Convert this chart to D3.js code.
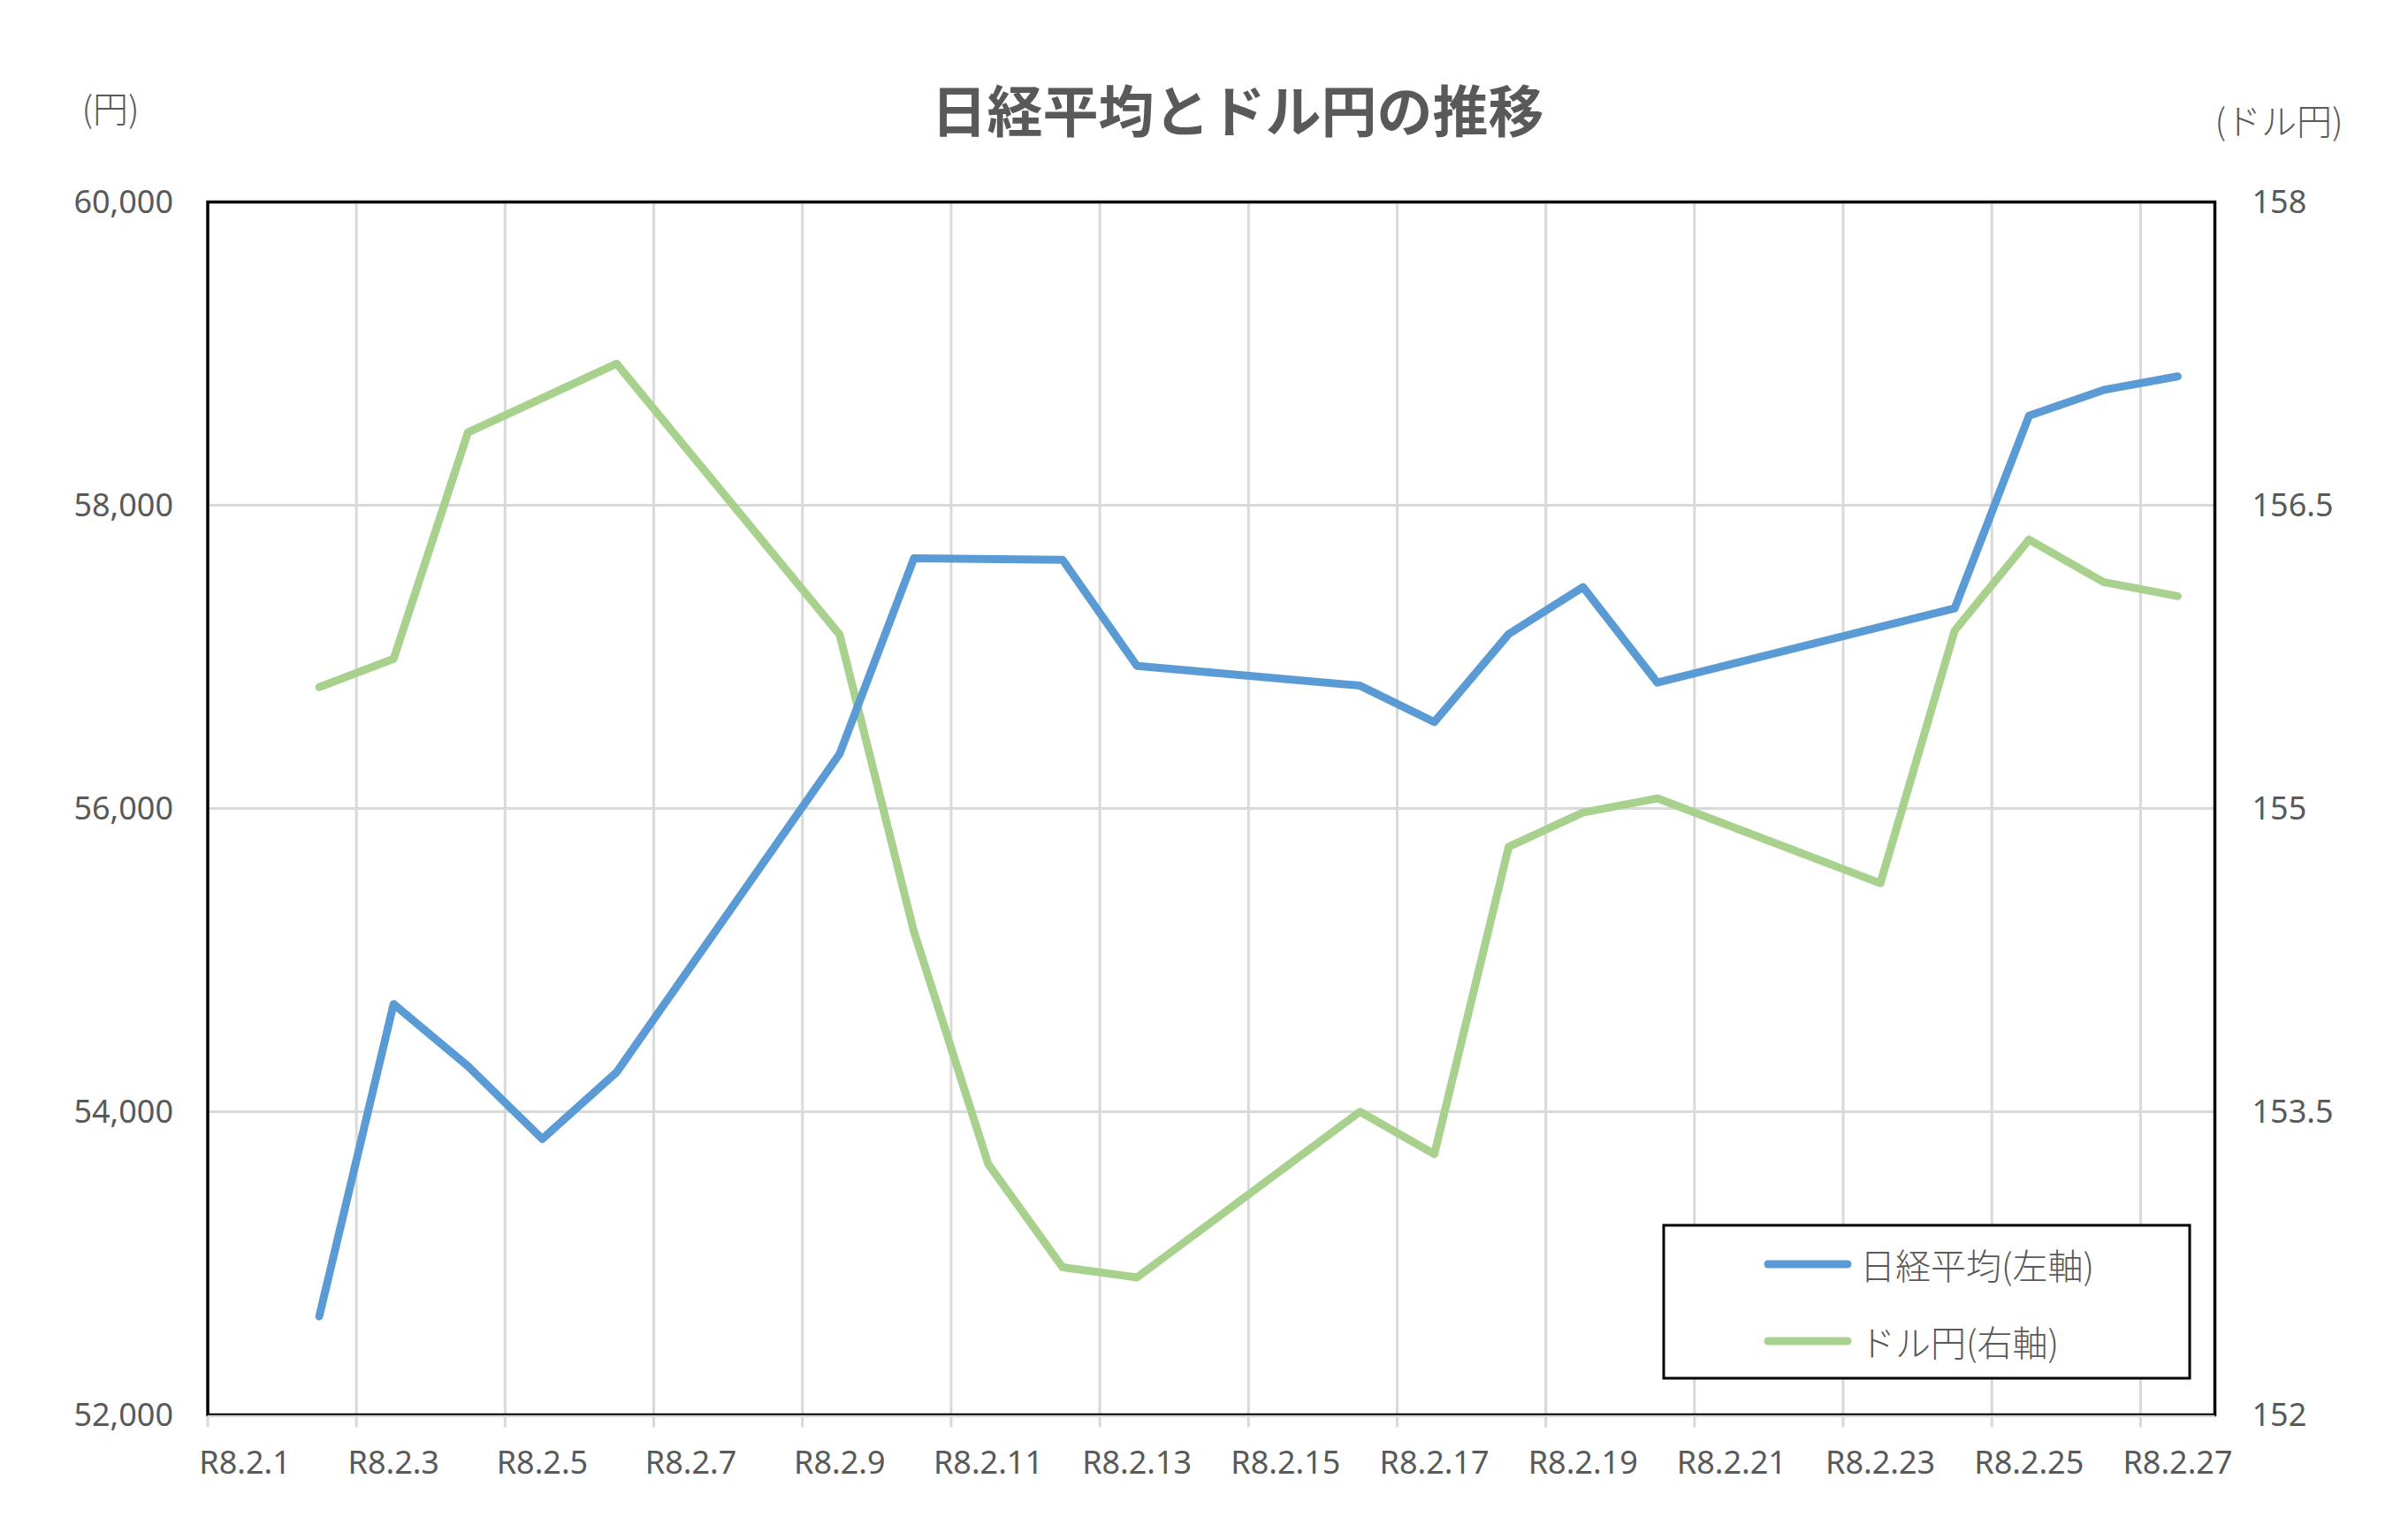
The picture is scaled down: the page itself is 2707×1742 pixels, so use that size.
<!DOCTYPE html>
<html lang="ja">
<head>
<meta charset="utf-8">
<title>日経平均とドル円の推移</title>
<script src="https://cdn.jsdelivr.net/npm/d3@7"></script>
<style>
  body { margin: 0; background: #fff; }
  text { font-family: "Noto Sans", "Noto Sans CJK JP", sans-serif; fill: #595959; }
  .jp { font-family: "Noto Sans CJK JP", sans-serif; font-weight: 300; }
</style>
</head>
<body>
<div id="container"></div>
<script>
// Chart data
const days = d3.range(1, 28);                       // 令和8年2月1日〜27日
const dayLabels = days.map(d => "R8.2." + d);
const tickLabelDays = days.filter(d => d % 2 === 1);

const nikkeiDays = [2, 3, 4, 5, 6, 9, 10, 12, 13, 16, 17, 18, 19, 20, 24, 25, 26, 27];
const nikkeiValues = [52650, 54710, 54300, 53820, 54260, 56360, 57650, 57640, 56940,
                      56810, 56570, 57150, 57460, 56830, 57320, 58590, 58760, 58850];

const usdDays = [2, 3, 4, 5, 6, 9, 10, 11, 12, 13, 16, 17, 18, 19, 20, 23, 24, 25, 26, 27];
const usdValues = [155.60, 155.74, 156.86, 157.03, 157.20, 155.86, 154.39, 153.24, 152.73, 152.68,
                   153.50, 153.29, 154.81, 154.98, 155.05, 154.63, 155.88, 156.33, 156.12, 156.05];

const leftTicks = [52000, 54000, 56000, 58000, 60000];
const rightTicks = [152, 153.5, 155, 156.5, 158];

const seriesNames = ["日経平均(左軸)", "ドル円(右軸)"];
const seriesColors = ["#5B9BD5", "#A9D18E"];

// Dimensions
const width = 2707;
const height = 1742;
const plot = { left: 235, right: 2505.5, top: 228.5, bottom: 1600.5 };

const svg = d3.select("#container")
  .append("svg")
  .attr("width", width)
  .attr("height", height);

svg.append("rect").attr("width", width).attr("height", height).attr("fill", "#fff");

// Scales
const xScale = d3.scaleBand()
  .domain(days)
  .range([plot.left, plot.right])
  .padding(0);
const xMid = d => xScale(d) + xScale.bandwidth() / 2;

const yLeft = d3.scaleLinear().domain([52000, 60000]).range([plot.bottom, plot.top]);
const yRight = d3.scaleLinear().domain([152, 158]).range([plot.bottom, plot.top]);

// Gridlines (horizontal)
svg.append("g")
  .selectAll("line")
  .data(leftTicks.slice(1, -1))
  .enter()
  .append("line")
  .attr("x1", plot.left).attr("x2", plot.right)
  .attr("y1", d => yLeft(d)).attr("y2", d => yLeft(d))
  .attr("stroke", "#D9D9D9").attr("stroke-width", 3);

// Gridlines (vertical, every second day)
svg.append("g")
  .selectAll("line")
  .data(tickLabelDays.slice(1))
  .enter()
  .append("line")
  .attr("x1", d => xScale(d)).attr("x2", d => xScale(d))
  .attr("y1", plot.top).attr("y2", plot.bottom)
  .attr("stroke", "#D9D9D9").attr("stroke-width", 3);

// Plot area border
svg.append("rect")
  .attr("x", plot.left).attr("y", plot.top)
  .attr("width", plot.right - plot.left)
  .attr("height", plot.bottom - plot.top)
  .attr("fill", "none")
  .attr("stroke", "#000")
  .attr("stroke-width", 3.5);

// X axis line and tick marks
svg.append("line")
  .attr("x1", plot.left).attr("x2", plot.right)
  .attr("y1", plot.bottom + 1.5).attr("y2", plot.bottom + 1.5)
  .attr("stroke", "#D9D9D9").attr("stroke-width", 2.5);

svg.append("g")
  .selectAll("line")
  .data(tickLabelDays)
  .enter()
  .append("line")
  .attr("x1", d => xScale(d)).attr("x2", d => xScale(d))
  .attr("y1", plot.bottom + 1).attr("y2", plot.bottom + 14)
  .attr("stroke", "#D9D9D9").attr("stroke-width", 3);

// X axis labels
const xAxis = d3.axisBottom(xScale)
  .tickValues(tickLabelDays)
  .tickFormat(d => dayLabels[d - 1])
  .tickSize(0)
  .tickPadding(0);
const gx = svg.append("g")
  .attr("transform", `translate(0, ${plot.bottom})`)
  .call(xAxis);
gx.select(".domain").remove();
gx.selectAll("text")
  .attr("y", 66).attr("dy", 0)
  .style("font-size", "36px")
  .style("fill", "#595959");

// Left axis
const gyl = svg.append("g")
  .attr("transform", `translate(${plot.left - 39}, 0)`)
  .call(d3.axisLeft(yLeft).tickValues(leftTicks).tickFormat(d3.format(",")).tickSize(0).tickPadding(0));
gyl.select(".domain").remove();
gyl.selectAll("text").style("font-size", "36px").style("fill", "#595959");

// Right axis
const gyr = svg.append("g")
  .attr("transform", `translate(${plot.right + 42}, 0)`)
  .call(d3.axisRight(yRight).tickValues(rightTicks).tickFormat(d => String(d)).tickSize(0).tickPadding(0));
gyr.select(".domain").remove();
gyr.selectAll("text").style("font-size", "36px").style("fill", "#595959");

// Lines
const nikkeiData = nikkeiDays.map((d, i) => ({ day: d, value: nikkeiValues[i] }));
const usdData = usdDays.map((d, i) => ({ day: d, value: usdValues[i] }));

const nikkeiLine = d3.line().x(d => xMid(d.day)).y(d => yLeft(d.value));
const usdLine = d3.line().x(d => xMid(d.day)).y(d => yRight(d.value));

svg.append("path")
  .datum(usdData)
  .attr("d", usdLine)
  .attr("fill", "none")
  .attr("stroke", seriesColors[1])
  .attr("stroke-width", 9)
  .attr("stroke-linejoin", "round")
  .attr("stroke-linecap", "round");

svg.append("path")
  .datum(nikkeiData)
  .attr("d", nikkeiLine)
  .attr("fill", "none")
  .attr("stroke", seriesColors[0])
  .attr("stroke-width", 9)
  .attr("stroke-linejoin", "round")
  .attr("stroke-linecap", "round");

// Legend
const legend = svg.append("g");
legend.append("rect")
  .attr("x", 1882).attr("y", 1386)
  .attr("width", 595).attr("height", 173)
  .attr("fill", "#fff")
  .attr("stroke", "#000")
  .attr("stroke-width", 3);

const legendItems = legend.selectAll("g.item")
  .data(seriesNames)
  .enter()
  .append("g")
  .attr("class", "item")
  .attr("transform", (d, i) => `translate(0, ${1430 + i * 87})`);

legendItems.append("line")
  .attr("x1", 2000).attr("x2", 2090)
  .attr("y1", 0).attr("y2", 0)
  .attr("stroke", (d, i) => seriesColors[i])
  .attr("stroke-width", 9)
  .attr("stroke-linecap", "round");

legendItems.append("text")
  .attr("class", "jp")
  .attr("x", 2104)
  .attr("y", 0)
  .attr("dominant-baseline", "central")
  .style("font-size", "40px")
  .text(d => d);

// Title
svg.append("text")
  .attr("x", 1400)
  .attr("y", 124)
  .attr("text-anchor", "middle")
  .attr("dominant-baseline", "central")
  .style("font-size", "63px")
  .style("font-weight", "bold")
  .text("日経平均とドル円の推移");

// Axis unit labels
svg.append("text")
  .attr("class", "jp")
  .attr("x", 125)
  .attr("y", 121)
  .attr("text-anchor", "middle")
  .attr("dominant-baseline", "central")
  .style("font-size", "40px")
  .text("(円)");

svg.append("text")
  .attr("class", "jp")
  .attr("x", 2578)
  .attr("y", 135)
  .attr("text-anchor", "middle")
  .attr("dominant-baseline", "central")
  .style("font-size", "40px")
  .text("(ドル円)");
</script>
</body>
</html>
